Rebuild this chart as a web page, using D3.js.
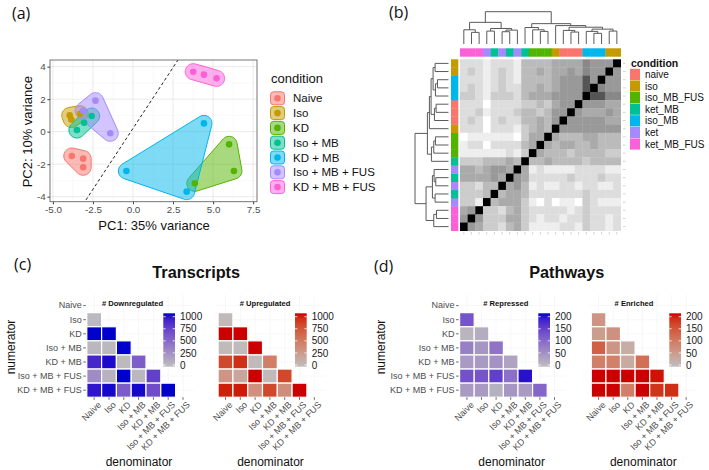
<!DOCTYPE html>
<html>
<head>
<meta charset="utf-8">
<script src="https://cdn.jsdelivr.net/npm/d3@7"></script>
<style>
body { margin: 0; background: #fff; }
svg { display: block; }
text { font-family: "Liberation Sans", Arial, sans-serif; }
</style>
</head>
<body>
<div id="fig"></div>
<script>
// ---------- data ----------
var groups = ["Naive", "Iso", "KD", "Iso + MB", "KD + MB", "Iso + MB + FUS", "KD + MB + FUS"];
var groupColors = ["#F8766D", "#C49A00", "#53B400", "#00C094", "#00B6EB", "#A58AFF", "#FB61D7"];

// (a) PCA scores, three samples per group
var pc1 = [[-3.82, -3.11, -3.11], [-3.95, -3.85, -3.3], [6.0, 6.3, 3.86], [-3.5, -3.05, -2.58],
           [-0.41, 4.43, 3.35], [-2.34, -1.42, -3.11], [3.76, 4.43, 5.22]];
var pc2 = [[-1.5, -1.66, -2.19], [1.0, 0.75, 1.1], [-0.78, -2.42, -3.18], [0.1, 0.55, 0.96],
           [-2.42, 0.51, -3.69], [1.91, -0.1, 1.29], [3.69, 3.51, 3.28]];
var pcXTicks = [-5, -2.5, 0, 2.5, 5, 7.5];
var pcYTicks = [-4, -2, 0, 2, 4];
var divider = [[-3.5, -5.05], [3.2, 5.0]]; // dashed separating line (PC1, PC2)

// (b) sample distance heatmap
var annLevels = ["naive", "iso", "iso_MB_FUS", "ket_MB", "iso_MB", "ket", "ket_MB_FUS"];
var sampleCond = ["ket_MB_FUS", "ket_MB_FUS", "ket_MB_FUS", "ket", "ket_MB", "ket", "ket_MB", "ket", "ket_MB",
  "iso_MB_FUS", "iso_MB_FUS", "iso_MB_FUS", "iso", "naive", "naive", "naive", "iso_MB", "iso_MB", "iso_MB", "iso", "iso"];
// gray level (hex digit, 0 = black .. f = white) per cell, rows top to bottom
var distRows = [
  "dddedddebbbbaaaa89990",
  "dcdedcdebbabaa9a89909",
  "dddedcdebbbba99959099",
  "dcdedcddbbaba99950899",
  "ccdecccdbaaa999905588",
  "dddfddddccbca990999aa",
  "ddcedddcbbcb9909aaa9a",
  "dcdfdcddbbab9099999aa",
  "dddfdddecbab099999999",
  "feeeeeefcaa0abbbaabbb",
  "eddfddddba0abaabbabbb",
  "eeeeeedec0abbbcbbbbcc",
  "cccbbbab0bbabbbbcbbbb",
  "aaba99a0aedeeeeddddee",
  "aaaa9a09adddddcdddcdd",
  "ccdbb0a9bedeeddeddeed",
  "cccb0baabdddddddcdddd",
  "cce0baaacefdfeefcdeee",
  "a90ccdbacdddddedcdddd",
  "909cccaacdeddeddcdded",
  "09accdbaceeeeddecdded"
];
// hierarchical clustering of samples: [left, right, height]
var sampleTree = [
  [[0, [1, 2, 3.6], 4.4], [[3, 4, 4.0], [[5, 6, 3.8], 7, 4.3], 4.8], 6.7],
  [[8, [9, [10, 11, 3.9], 4.4], 5.1],
   [12, [[13, [14, 15, 3.7], 4.2], [[16, [17, 18, 3.3], 3.9], [19, 20, 4.0], 4.6], 5.2], 5.7], 6.3],
  10];

// (c) transcripts, rows = numerator Iso..KD+MB+FUS, cols = denominator
var txDown = [[30], [1000, 1000], [40, 30, 1000], [860, 970, 20, 550], [290, 70, 1000, 40, 720],
              [930, 980, 560, 980, 650, 1000]];
var txUp = [[20], [1000, 1000], [30, 20, 1000], [780, 900, 20, 450], [300, 180, 1000, 30, 790],
            [950, 960, 330, 780, 350, 1000]];
var txBreaks = [0, 250, 500, 750, 1000];
// (d) pathways
var pwRep = [[120], [10, 20], [70, 45, 85], [40, 40, 50, 30], [125, 120, 145, 90, 190],
             [40, 40, 15, 45, 40, 100]];
var pwEnr = [[60], [50, 65], [130, 60, 25], [90, 88, 30, 110], [200, 200, 200, 200, 195],
             [200, 200, 90, 200, 175, 180]];
var pwBreaks = [0, 50, 100, 150, 200];

// ---------- figure ----------
var svg = d3.select("#fig").append("svg").attr("width", 709).attr("height", 470);
svg.append("rect").attr("width", 709).attr("height", 470).attr("fill", "#fff");

function panelLabel(txt, x, y) {
  svg.append("text").attr("x", x).attr("y", y).text(txt)
    .style("font-family", "'Open Sans', sans-serif").attr("font-size", 16).attr("fill", "#111");
}
panelLabel("(a)", 12, 19);
panelLabel("(b)", 389, 18);
panelLabel("(c)", 14, 270);
panelLabel("(d)", 374, 272);

// ===== (a) PCA =====
var x = d3.scaleLinear().domain([-5.18, 7.74]).range([50, 257]);
var y = d3.scaleLinear().domain([-4.31, 4.41]).range([201.7, 60]);
var pa = svg.append("g");

var xMinor = pcXTicks.slice(1).map(function(t, i) { return (t + pcXTicks[i]) / 2; });
var yMinor = pcYTicks.slice(1).map(function(t, i) { return (t + pcYTicks[i]) / 2; });
pa.selectAll(".gxm").data(xMinor).enter().append("line")
  .attr("x1", x).attr("x2", x).attr("y1", 60).attr("y2", 201.7)
  .attr("stroke", "#f2f2f2").attr("stroke-width", 0.5);
pa.selectAll(".gym").data(yMinor).enter().append("line")
  .attr("y1", y).attr("y2", y).attr("x1", 50).attr("x2", 257)
  .attr("stroke", "#f2f2f2").attr("stroke-width", 0.5);
pa.selectAll(".gx").data(pcXTicks).enter().append("line")
  .attr("x1", x).attr("x2", x).attr("y1", 60).attr("y2", 201.7)
  .attr("stroke", "#e8e8e8").attr("stroke-width", 0.9);
pa.selectAll(".gy").data(pcYTicks).enter().append("line")
  .attr("y1", y).attr("y2", y).attr("x1", 50).attr("x2", 257)
  .attr("stroke", "#e8e8e8").attr("stroke-width", 0.9);

svg.append("clipPath").attr("id", "pcaClip").append("rect")
  .attr("x", 50).attr("y", 60).attr("width", 207).attr("height", 141.7);

function hullPath(pts, r) {
  var ring = [];
  pts.forEach(function(p) {
    for (var k = 0; k < 48; k++) {
      var a = 2 * Math.PI * k / 48;
      ring.push([p[0] + r * Math.cos(a), p[1] + r * Math.sin(a)]);
    }
  });
  var h = d3.polygonHull(ring);
  return "M" + h.map(function(q) { return q[0].toFixed(2) + "," + q[1].toFixed(2); }).join("L") + "Z";
}

var groupPts = groups.map(function(g, i) {
  return pc1[i].map(function(v, j) { return [x(v), y(pc2[i][j])]; });
});
pa.append("g").selectAll("path").data(groupPts).enter().append("path")
  .attr("d", function(d) { return hullPath(d, 8); })
  .attr("fill", function(d, i) { return groupColors[i]; })
  .attr("fill-opacity", 0.5)
  .attr("stroke", function(d, i) { return groupColors[i]; })
  .attr("stroke-width", 1);

pa.append("line")
  .attr("clip-path", "url(#pcaClip)")
  .attr("x1", x(divider[0][0])).attr("y1", y(divider[0][1]))
  .attr("x2", x(divider[1][0])).attr("y2", y(divider[1][1]))
  .attr("stroke", "#222").attr("stroke-width", 1).attr("stroke-dasharray", "3,2.5");

groupPts.forEach(function(pts, i) {
  pa.append("g").selectAll("circle").data(pts).enter().append("circle")
    .attr("cx", function(d) { return d[0]; }).attr("cy", function(d) { return d[1]; })
    .attr("r", 3.3).attr("fill", groupColors[i]);
});

pa.append("rect").attr("x", 50).attr("y", 60).attr("width", 207).attr("height", 141.7)
  .attr("fill", "none").attr("stroke", "#666").attr("stroke-width", 0.9);

var xAxA = pa.append("g").attr("transform", "translate(0,201.7)")
  .call(d3.axisBottom(x).tickValues(pcXTicks).tickFormat(d3.format(".1f")).tickSize(2.6).tickPadding(1.5));
var yAxA = pa.append("g").attr("transform", "translate(50,0)")
  .call(d3.axisLeft(y).tickValues(pcYTicks).tickFormat(d3.format("d")).tickSize(2.6).tickPadding(1.8));
[xAxA, yAxA].forEach(function(a) {
  a.select(".domain").remove();
  a.selectAll("line").attr("stroke", "#444");
  a.selectAll("text").attr("fill", "#4d4d4d").attr("font-size", 9.8)
    .style("font-family", "'Liberation Sans', Arial, sans-serif");
});
xAxA.selectAll("text").text(function(d) { return d3.format(".1f")(d).replace("−", "-"); });
yAxA.selectAll("text").text(function(d) { return String(d); });

pa.append("text").attr("x", 154).attr("y", 229.5).attr("text-anchor", "middle")
  .attr("font-size", 13).attr("fill", "#111").text("PC1: 35% variance");
pa.append("text").attr("transform", "translate(31.5,131.7) rotate(-90)").attr("text-anchor", "middle")
  .attr("font-size", 13).attr("fill", "#111").text("PC2: 10% variance");

// legend (a)
pa.append("text").attr("x", 271).attr("y", 82.5).attr("font-size", 13).attr("fill", "#111").text("condition");
var legA = pa.append("g").selectAll("g").data(groups).enter().append("g")
  .attr("transform", function(d, i) { return "translate(270," + (98.3 + i * 14.8) + ")"; });
legA.append("rect").attr("x", 0.5).attr("y", -6.5).attr("width", 14).attr("height", 13).attr("rx", 3)
  .attr("fill", function(d, i) { return groupColors[i]; }).attr("fill-opacity", 0.5)
  .attr("stroke", function(d, i) { return groupColors[i]; }).attr("stroke-width", 1);
legA.append("circle").attr("cx", 7.5).attr("cy", 0).attr("r", 3.3)
  .attr("fill", function(d, i) { return groupColors[i]; });
legA.append("text").attr("x", 23).attr("dy", "0.36em").attr("font-size", 11.5).attr("fill", "#111")
  .text(function(d) { return d; });

// ===== (b) distance heatmap =====
var pb = svg.append("g");
var annColor = d3.scaleOrdinal().domain(annLevels)
  .range(["#F8766D", "#C49A00", "#53B400", "#00C094", "#00B6EB", "#A58AFF", "#FB61D7"]);
var hx = d3.scaleBand().domain(d3.range(21)).range([460, 620.7]);
var hy = d3.scaleBand().domain(d3.range(21)).range([59.3, 230.7]);
var gray = d3.scaleLinear().domain([0, 15]).range(["#000000", "#ffffff"]);

var cells = [];
distRows.forEach(function(row, r) {
  row.split("").forEach(function(ch, c) { cells.push({ r: r, c: c, v: parseInt(ch, 16) }); });
});
pb.append("g").selectAll("rect").data(cells).enter().append("rect")
  .attr("x", function(d) { return hx(d.c); }).attr("y", function(d) { return hy(d.r); })
  .attr("width", hx.bandwidth() + 0.3).attr("height", hy.bandwidth() + 0.3)
  .attr("fill", function(d) { return gray(d.v); });

pb.append("g").selectAll("rect").data(sampleCond).enter().append("rect")
  .attr("x", function(d, i) { return hx(i); }).attr("y", 48.3)
  .attr("width", hx.bandwidth() + 0.3).attr("height", 8.4)
  .attr("fill", function(d) { return annColor(d); });
pb.append("g").selectAll("rect").data(sampleCond).enter().append("rect")
  .attr("x", 451).attr("y", function(d, i) { return hy(20 - i); })
  .attr("width", 7.3).attr("height", hy.bandwidth() + 0.3)
  .attr("fill", function(d) { return annColor(d); });

// empty row / column name ticks
pb.append("g").selectAll("line").data(d3.range(21)).enter().append("line")
  .attr("x1", 623).attr("x2", 625.5)
  .attr("y1", function(d) { return hy(d) + hy.bandwidth() / 2; })
  .attr("y2", function(d) { return hy(d) + hy.bandwidth() / 2; })
  .attr("stroke", "#c8c8c8").attr("stroke-width", 0.8);
pb.append("g").selectAll("line").data(d3.range(21)).enter().append("line")
  .attr("y1", 232).attr("y2", 234.5)
  .attr("x1", function(d) { return hx(d) + hx.bandwidth() / 2; })
  .attr("x2", function(d) { return hx(d) + hx.bandwidth() / 2; })
  .attr("stroke", "#c8c8c8").attr("stroke-width", 0.8);

// dendrograms
function drawTree(g, node, posOf, hScale, horizontal) {
  if (typeof node === "number") return { p: posOf(node), h: 0 };
  var a = drawTree(g, node[0], posOf, hScale, horizontal);
  var b = drawTree(g, node[1], posOf, hScale, horizontal);
  var h = node[2];
  var pts = [[a.p, a.h], [a.p, h], [b.p, h], [b.p, b.h]];
  var line = d3.line()
    .x(function(d) { return horizontal ? hScale(d[1]) : d[0]; })
    .y(function(d) { return horizontal ? d[0] : hScale(d[1]); });
  g.append("path").attr("d", line(pts)).attr("fill", "none")
    .attr("stroke", "#5a5a5a").attr("stroke-width", 1);
  return { p: (a.p + b.p) / 2, h: h };
}
var colDendro = pb.append("g");
drawTree(colDendro, sampleTree,
  function(s) { return hx(s) + hx.bandwidth() / 2; },
  d3.scaleLinear().domain([0, 10]).range([44, 11.7]), false);
var rowDendro = pb.append("g");
drawTree(rowDendro, sampleTree,
  function(s) { return hy(20 - s) + hy.bandwidth() / 2; },
  d3.scaleLinear().domain([0, 10]).range([448.5, 415]), true);

// legend (b)
pb.append("text").attr("x", 631).attr("y", 66.5).attr("font-size", 10.5).attr("font-weight", "bold")
  .attr("fill", "#111").text("condition");
var legB = pb.append("g").selectAll("g").data(annLevels).enter().append("g")
  .attr("transform", function(d, i) { return "translate(630," + (74.4 + i * 11.6) + ")"; });
legB.append("rect").attr("x", 0).attr("y", -5.6).attr("width", 10).attr("height", 11.2)
  .attr("fill", function(d) { return annColor(d); });
legB.append("text").attr("x", 15).attr("dy", "0.36em").attr("font-size", 10).attr("fill", "#111")
  .text(function(d) { return d; });

// ===== (c) and (d) triangular heatmaps =====
var gradId = 0;
function drawTri(c) {
  var g = svg.append("g");
  var x0 = c.x0 - c.px / 2, y0 = c.y0 - c.py / 2;
  var xb = d3.scaleBand().domain(groups).range([x0, x0 + 7 * c.px]);
  var yb = d3.scaleBand().domain(groups).range([y0, y0 + 7 * c.py]);
  var col = d3.scaleLinear().domain([0, c.max]).range(["#bebebe", c.high])
    .interpolate(d3.interpolateLab).clamp(true);

  g.selectAll(".vg").data(groups).enter().append("line")
    .attr("x1", function(d) { return xb(d) + xb.bandwidth() / 2; })
    .attr("x2", function(d) { return xb(d) + xb.bandwidth() / 2; })
    .attr("y1", y0 - 4).attr("y2", y0 + 7 * c.py + 1)
    .attr("stroke", "#f1f1f1").attr("stroke-width", 0.6);
  g.selectAll(".hg").data(groups).enter().append("line")
    .attr("y1", function(d) { return yb(d) + yb.bandwidth() / 2; })
    .attr("y2", function(d) { return yb(d) + yb.bandwidth() / 2; })
    .attr("x1", x0 - 1).attr("x2", x0 + 7 * c.px + 3)
    .attr("stroke", "#f1f1f1").attr("stroke-width", 0.6);

  var tiles = [];
  c.vals.forEach(function(row, i) {
    row.forEach(function(v, j) { tiles.push({ num: groups[i + 1], den: groups[j], v: v }); });
  });
  g.append("g").selectAll("rect").data(tiles).enter().append("rect")
    .attr("x", function(d) { return xb(d.den); }).attr("y", function(d) { return yb(d.num); })
    .attr("width", xb.bandwidth()).attr("height", yb.bandwidth())
    .attr("fill", function(d) { return col(d.v); })
    .attr("stroke", "#fff").attr("stroke-width", 1.2);

  if (c.showY) {
    var ya = g.append("g").attr("transform", "translate(" + (x0 - 1) + ",0)")
      .call(d3.axisLeft(yb).tickSize(2.5).tickPadding(1.5));
    ya.select(".domain").remove();
    ya.selectAll("line").attr("stroke", "#666");
    ya.selectAll("text").attr("font-size", 9).attr("fill", "#4d4d4d")
      .style("font-family", "'Liberation Sans', Arial, sans-serif");
    g.append("text").attr("transform", "translate(" + c.numX + ",347) rotate(-90)")
      .attr("text-anchor", "middle").attr("font-size", 12).attr("fill", "#111").text("numerator");
  }
  var xa = g.append("g").attr("transform", "translate(0," + (y0 + 7 * c.py) + ")")
    .call(d3.axisBottom(xb).tickSize(2.5).tickPadding(0));
  xa.select(".domain").remove();
  xa.selectAll("line").attr("stroke", "#666");
  xa.selectAll("text").attr("y", 0).attr("dy", "0.72em").attr("text-anchor", "end")
    .attr("transform", "translate(3,3.5) rotate(-45)")
    .attr("font-size", 9).attr("fill", "#4d4d4d")
    .style("font-family", "'Liberation Sans', Arial, sans-serif");

  g.append("text").attr("x", c.denomX).attr("y", 465.5).attr("text-anchor", "middle")
    .attr("font-size", 12).attr("fill", "#111").text("denominator");
  g.append("text").attr("x", c.titleX).attr("y", 306).attr("text-anchor", "middle")
    .attr("font-size", 7.6).attr("font-weight", "bold").attr("fill", "#111").text(c.title);

  // colour bar
  var id = "grad" + (gradId++);
  var grad = svg.append("defs").append("linearGradient").attr("id", id)
    .attr("x1", 0).attr("y1", 1).attr("x2", 0).attr("y2", 0);
  d3.range(11).forEach(function(k) {
    grad.append("stop").attr("offset", k / 10).attr("stop-color", col(c.max * k / 10));
  });
  var by = d3.scaleLinear().domain([0, c.max]).range([365, 316.7]);
  g.append("rect").attr("x", c.barX).attr("y", 313.3).attr("width", 11.7).attr("height", 53.4)
    .attr("fill", "url(#" + id + ")");
  c.breaks.forEach(function(b) {
    g.append("line").attr("x1", c.barX).attr("x2", c.barX + 2.3).attr("y1", by(b)).attr("y2", by(b))
      .attr("stroke", "#fff").attr("stroke-width", 0.8);
    g.append("line").attr("x1", c.barX + 9.4).attr("x2", c.barX + 11.7).attr("y1", by(b)).attr("y2", by(b))
      .attr("stroke", "#fff").attr("stroke-width", 0.8);
    g.append("text").attr("x", c.barX + 16.7).attr("y", by(b)).attr("dy", "0.36em")
      .attr("font-size", 10).attr("fill", "#1a1a1a").text(b);
  });
}

svg.append("text").attr("x", 196.2).attr("y", 277.5).attr("text-anchor", "middle")
  .attr("font-size", 16.3).attr("font-weight", "bold").attr("fill", "#111").text("Transcripts");
svg.append("text").attr("x", 566.7).attr("y", 277.5).attr("text-anchor", "middle")
  .attr("font-size", 16.3).attr("font-weight", "bold").attr("fill", "#111").text("Pathways");

drawTri({ x0: 94.2, px: 14.8, y0: 305.6, py: 14.1, vals: txDown, high: "#0000CD", max: 1000,
  breaks: txBreaks, showY: true, numX: 15, title: "# Downregulated", titleX: 132.5, barX: 163.3, denomX: 139 });
drawTri({ x0: 225.5, px: 14.8, y0: 305.6, py: 14.1, vals: txUp, high: "#CD0000", max: 1000,
  breaks: txBreaks, showY: false, title: "# Upregulated", titleX: 265, barX: 295, denomX: 270.5 });
drawTri({ x0: 466.9, px: 14.6, y0: 305.6, py: 14.1, vals: pwRep, high: "#0000CD", max: 200,
  breaks: pwBreaks, showY: true, numX: 385, title: "# Repressed", titleX: 505.8, barX: 538.3, denomX: 511.7 });
drawTri({ x0: 598.6, px: 14.6, y0: 305.6, py: 14.1, vals: pwEnr, high: "#CD0000", max: 200,
  breaks: pwBreaks, showY: false, title: "# Enriched", titleX: 634, barX: 669.3, denomX: 643.3 });
</script>
</body>
</html>
